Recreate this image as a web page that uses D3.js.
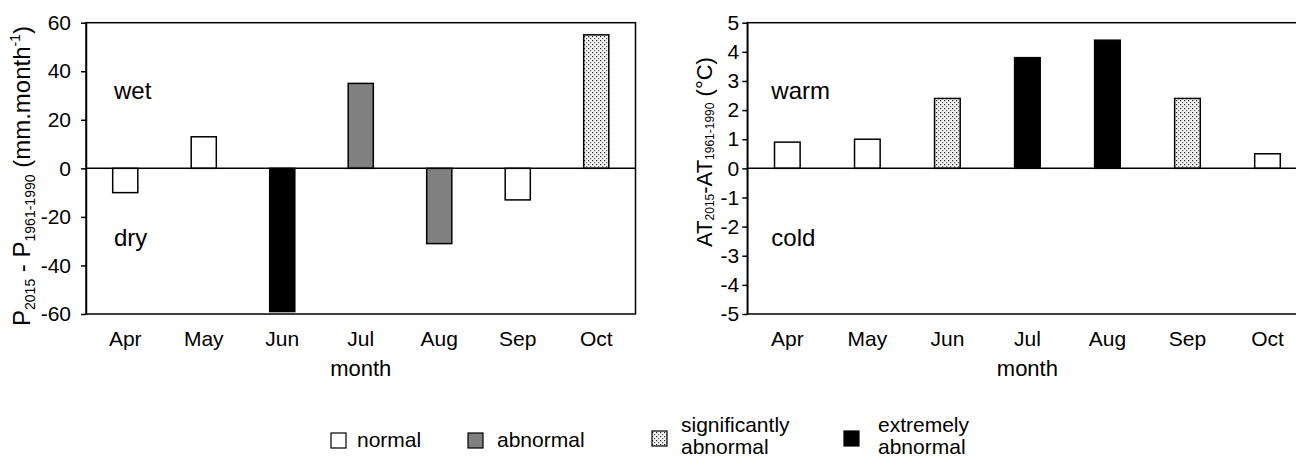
<!DOCTYPE html>
<html>
<head>
<meta charset="utf-8">
<script src="https://cdn.jsdelivr.net/npm/d3@7"></script>
<style>
  body { margin: 0; background: #fff; }
  svg text { font-family: "Liberation Sans", Arial, sans-serif; fill: #000; }
</style>
</head>
<body>
<script>
// data
var months = ["Apr", "May", "Jun", "Jul", "Aug", "Sep", "Oct"];
var precipDiff = [-10, 13, -59, 35, -31, -13, 55];
var precipClass = ["normal", "normal", "extreme", "abnormal", "abnormal", "normal", "significant"];
var tempDiff = [0.9, 1.0, 2.4, 3.8, 4.4, 2.4, 0.5];
var tempClass = ["normal", "normal", "significant", "extreme", "extreme", "significant", "normal"];
var precipTicks = [-60, -40, -20, 0, 20, 40, 60];
var tempTicks = [-5, -4, -3, -2, -1, 0, 1, 2, 3, 4, 5];
var legendKeys = ["normal", "abnormal", "significant", "extreme"];
var legendLabels = [["normal"], ["abnormal"], ["significantly", "abnormal"], ["extremely", "abnormal"]];

var svg = d3.select("body").append("svg")
  .attr("width", 1296)
  .attr("height", 457);

// dotted fill for "significantly abnormal"
var pat = svg.append("defs").append("pattern")
  .attr("id", "dots")
  .attr("patternUnits", "userSpaceOnUse")
  .attr("width", 4).attr("height", 4);
pat.append("rect").attr("width", 4).attr("height", 4).attr("fill", "#f4f4f4");
pat.append("rect").attr("x", 0).attr("y", 0).attr("width", 1.2).attr("height", 1.2).attr("fill", "#222");
pat.append("rect").attr("x", 2).attr("y", 2).attr("width", 1.2).attr("height", 1.2).attr("fill", "#555");

function fillFor(c) {
  if (c == "normal") return "#fff";
  if (c == "abnormal") return "#808080";
  if (c == "significant") return "url(#dots)";
  return "#000";
}

function drawPanel(opts) {
  var x = d3.scaleBand()
    .domain(months)
    .range([opts.left, opts.right])
    .paddingInner(0.68)
    .paddingOuter(0.34);
  var y = d3.scaleLinear()
    .domain(opts.domain)
    .range([314, 22.7]);

  var g = svg.append("g");

  // bars
  g.selectAll("rect.bar")
    .data(opts.values)
    .enter().append("rect")
      .attr("class", "bar")
      .attr("x", function(d, i) { return x(months[i]); })
      .attr("y", function(d) { return y(Math.max(0, d)); })
      .attr("width", x.bandwidth())
      .attr("height", function(d) { return Math.abs(y(d) - y(0)); })
      .attr("fill", function(d, i) { return fillFor(opts.classes[i]); })
      .attr("stroke", "#000")
      .attr("stroke-width", 1.5);

  // zero line
  g.append("line")
    .attr("x1", opts.left).attr("x2", opts.right)
    .attr("y1", y(0)).attr("y2", y(0))
    .attr("stroke", "#000").attr("stroke-width", 1.5);

  // frame
  g.append("rect")
    .attr("x", opts.left).attr("y", y(opts.domain[1]))
    .attr("width", opts.right - opts.left)
    .attr("height", y(opts.domain[0]) - y(opts.domain[1]))
    .attr("fill", "none")
    .attr("stroke", "#000").attr("stroke-width", 1.5);

  // y axis (plain hyphen for negatives, like the original)
  var ya = g.append("g")
    .attr("transform", "translate(" + opts.left + ",0)")
    .call(d3.axisLeft(y).tickValues(opts.ticks).tickFormat(function(d) { return String(d); })
      .tickSize(5).tickPadding(opts.tickPad).tickSizeOuter(0));
  ya.select(".domain").attr("stroke-width", 1.5);
  ya.selectAll(".tick line").attr("stroke-width", 1.5);
  ya.selectAll("text").style("font-size", "21px");

  // x axis
  var xa = g.append("g")
    .attr("transform", "translate(0," + y(opts.domain[0]) + ")")
    .call(d3.axisBottom(x).tickSize(0).tickPadding(17));
  xa.select(".domain").remove();
  xa.selectAll("text").style("font-size", "21px");

  // axis title
  g.append("text")
    .attr("x", (opts.left + opts.right) / 2)
    .attr("y", 376)
    .attr("text-anchor", "middle")
    .style("font-size", "22px")
    .text("month");

  // region labels
  g.append("text").attr("x", opts.left + opts.labelOff).attr("y", 99)
    .style("font-size", "24px").text(opts.upper);
  g.append("text").attr("x", opts.left + opts.labelOff).attr("y", 246)
    .style("font-size", "24px").text(opts.lower);

  return g;
}

drawPanel({
  left: 86, right: 635.5, domain: [-60, 60], ticks: precipTicks, tickPad: 10,
  values: precipDiff, classes: precipClass, upper: "wet", lower: "dry", labelOff: 28
});
drawPanel({
  left: 747.3, right: 1307.5, domain: [-5, 5], ticks: tempTicks, tickPad: 3,
  values: tempDiff, classes: tempClass, upper: "warm", lower: "cold", labelOff: 24
});

// y axis titles with sub/superscripts
function rotLabel(cx, cy, parts, mainSize, subSize, subShift) {
  var t = svg.append("text")
    .attr("transform", "translate(" + cx + "," + cy + ") rotate(-90)")
    .attr("text-anchor", "middle")
    .style("font-size", mainSize + "px");
  var shift = 0;
  parts.forEach(function(p) {
    var target = p[1] == "sub" ? subShift : (p[1] == "sup" ? -10 : 0);
    t.append("tspan")
      .attr("dy", target - shift)
      .style("font-size", (p[1] ? subSize : mainSize) + "px")
      .text(p[0]);
    shift = target;
  });
}
rotLabel(30, 176, [["P"], ["2015", "sub"], [" - P"], ["1961-1990", "sub"], [" (mm.month"], ["-1", "sup"], [")"]], 24, 14, 5);
rotLabel(712, 152, [["AT"], ["2015", "sub"], ["-AT"], ["1961-1990", "sub"], [" (°C)"]], 22, 12, 2);

// legend
var lx = [331, 468, 652, 844];
var tx = [357, 497, 681, 878];
legendKeys.forEach(function(k, i) {
  var by = legendLabels[i].length > 1 ? 431 : 433;
  svg.append("rect")
    .attr("x", lx[i]).attr("y", by)
    .attr("width", 15).attr("height", 15)
    .attr("fill", fillFor(k))
    .attr("stroke", "#000").attr("stroke-width", 1.2);
  var t = svg.append("text").attr("x", tx[i]).style("font-size", "21px");
  if (legendLabels[i].length > 1) {
    t.attr("y", 432);
    t.append("tspan").attr("x", tx[i]).text(legendLabels[i][0]);
    t.append("tspan").attr("x", tx[i]).attr("dy", 22).text(legendLabels[i][1]);
  } else {
    t.attr("y", 447).text(legendLabels[i][0]);
  }
});
</script>
</body>
</html>
